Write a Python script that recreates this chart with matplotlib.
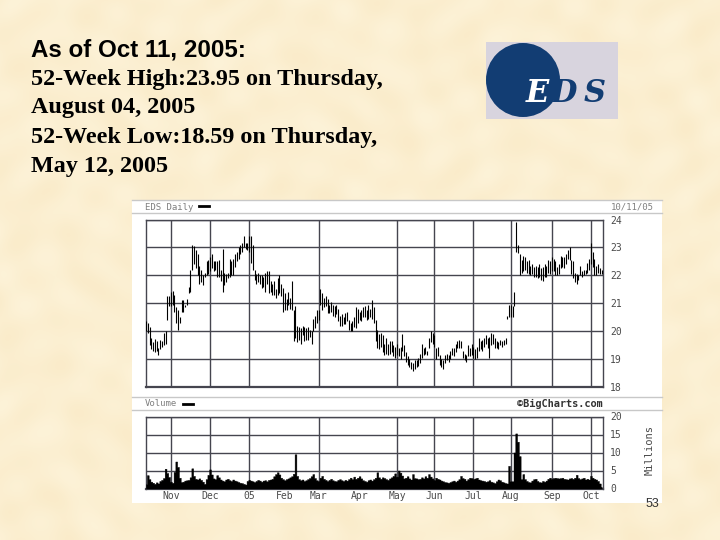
import numpy as np
import matplotlib
matplotlib.use("Agg")
import matplotlib.pyplot as plt
from matplotlib.patches import Rectangle, Circle

# daily highs and lows, Oct 11 2004 - Oct 11 2005
highs = [
    20.35, 20.30, 20.15, 19.75, 19.60, 19.72, 19.65, 19.40, 19.70, 19.65,
    19.95, 20.02, 21.25, 21.25, 21.40, 21.45, 21.30, 20.85, 20.76, 20.50,
    21.10, 21.10, 20.95, 21.15, 21.60, 22.20, 23.10, 23.05, 22.90, 22.75,
    22.35, 22.20, 22.00, 22.10, 22.50, 22.55, 22.65, 22.75, 22.50, 22.50,
    22.50, 22.55, 22.20, 22.95, 22.10, 22.05, 22.10, 22.60, 22.50, 22.60,
    22.75, 22.85, 23.00, 23.10, 23.15, 23.40, 23.15, 23.15, 23.40, 23.40,
    23.10, 22.20, 22.05, 22.10, 22.00, 22.00, 21.95, 22.10, 22.15, 22.15,
    21.80, 21.70, 21.80, 21.50, 21.90, 22.00, 21.70, 21.55, 21.35, 21.15,
    21.40, 21.20, 21.80, 20.75, 20.90, 20.20, 20.15, 20.10, 20.20, 20.15,
    20.10, 20.15, 20.05, 20.00, 20.45, 20.55, 20.75, 20.75, 21.50, 21.35,
    21.20, 21.25, 21.15, 20.95, 21.05, 20.95, 20.90, 20.95, 20.80, 20.55,
    20.60, 20.50, 20.65, 20.70, 20.40, 20.30, 20.35, 20.50, 20.85, 20.80,
    20.70, 20.75, 20.85, 20.90, 20.75, 20.95, 20.80, 21.10, 20.85, 20.40,
    20.05, 19.90, 19.95, 19.85, 19.55, 19.75, 19.55, 19.65, 19.65, 19.50,
    19.45, 19.55, 19.40, 19.45, 19.90, 19.50, 19.25, 19.10, 19.00, 18.90,
    18.85, 18.95, 18.95, 19.05, 19.20, 19.55, 19.40, 19.45, 19.30, 19.75,
    20.00, 19.95, 19.85, 19.40, 19.45, 19.15, 19.00, 18.95, 19.15, 19.20,
    19.15, 19.30, 19.40, 19.40, 19.55, 19.65, 19.70, 19.65, 19.30, 19.20,
    19.15, 19.50, 19.40, 19.55, 19.45, 19.35, 19.45, 19.75, 19.65, 19.70,
    19.75, 19.85, 19.75, 19.80, 19.95, 19.90, 19.75, 19.65, 19.60, 19.70,
    19.65, 19.70, 19.75, 20.55, 20.95, 20.95, 20.90, 21.40, 23.90, 23.10,
    22.75, 22.55, 22.70, 22.65, 22.50, 22.55, 22.35, 22.40, 22.30, 22.35,
    22.30, 22.40, 22.25, 22.30, 22.40, 22.35, 22.55, 22.50, 22.65, 22.60,
    22.50, 22.30, 22.40, 22.70, 22.65, 22.65, 22.75, 22.90, 23.00, 22.55,
    22.50, 22.10, 22.05, 22.00, 22.35, 22.15, 22.20, 22.20, 22.45, 22.60,
    23.15, 22.85, 22.60, 22.35, 22.40, 22.25, 22.20,
]
lows = [
    20.00, 19.95, 19.50, 19.35, 19.30, 19.25, 19.30, 19.15, 19.35, 19.45,
    19.50, 19.55, 20.40, 20.90, 20.90, 20.95, 20.70, 20.30, 20.05, 20.30,
    20.70, 20.70, 20.85, 20.95, 21.35, 21.40, 22.20, 22.40, 22.25, 22.00,
    21.70, 21.75, 21.65, 21.95, 22.00, 22.05, 22.15, 22.25, 22.15, 22.20,
    21.95, 21.95, 21.80, 21.40, 21.65, 21.75, 21.90, 21.95, 22.00, 22.00,
    22.30, 22.50, 22.60, 22.75, 22.85, 23.00, 22.95, 22.90, 22.85, 22.45,
    22.20, 21.85, 21.70, 21.75, 21.70, 21.55, 21.60, 21.40, 21.70, 21.35,
    21.40, 21.30, 21.30, 21.20, 21.30, 21.35, 21.25, 20.70, 20.75, 20.75,
    20.95, 20.80, 20.75, 19.65, 19.75, 19.60, 19.70, 19.55, 19.85, 19.65,
    19.70, 19.70, 19.80, 19.55, 20.00, 20.10, 20.30, 20.40, 20.95, 20.75,
    20.85, 20.90, 20.65, 20.65, 20.70, 20.55, 20.50, 20.60, 20.35, 20.20,
    20.20, 20.25, 20.25, 20.35, 20.05, 20.00, 20.00, 20.15, 20.10, 20.30,
    20.40, 20.35, 20.50, 20.50, 20.40, 20.45, 20.50, 20.45, 20.30, 19.65,
    19.40, 19.35, 19.45, 19.25, 19.15, 19.20, 19.15, 19.20, 19.25, 19.10,
    19.05, 19.15, 19.10, 19.00, 19.30, 19.10, 18.90, 18.80, 18.70, 18.65,
    18.59, 18.65, 18.70, 18.75, 18.85, 19.05, 19.15, 19.20, 19.15, 19.40,
    19.60, 19.55, 19.45, 19.00, 19.10, 18.80, 18.70, 18.65, 18.85, 18.95,
    18.90, 19.00, 19.15, 19.10, 19.25, 19.40, 19.40, 19.40, 19.05, 18.95,
    18.90, 19.10, 19.10, 19.15, 19.05, 19.00, 19.05, 19.30, 19.35, 19.30,
    19.45, 19.55, 19.40, 19.05, 19.50, 19.55, 19.40, 19.40, 19.35, 19.50,
    19.45, 19.50, 19.55, 20.45, 20.50, 20.50, 20.50, 20.90, 22.85, 22.80,
    22.00, 22.10, 22.15, 22.20, 22.10, 22.05, 22.00, 22.05, 21.95, 21.95,
    21.90, 21.95, 21.85, 21.80, 21.95, 21.95, 22.10, 22.05, 22.15, 22.15,
    22.00, 22.00, 22.05, 22.25, 22.30, 22.25, 22.40, 22.60, 22.55, 22.05,
    21.90, 21.75, 21.70, 21.85, 22.00, 21.95, 22.00, 22.05, 22.10, 22.20,
    22.40, 22.30, 22.00, 22.00, 22.10, 22.05, 22.05,
]
volumes = [
    1.2, 3.7, 2.6, 1.9, 1.6, 1.3, 1.7, 1.4, 2.1, 2.4,
    2.9, 5.5, 4.3, 3.2, 1.9, 1.6, 4.6, 7.5, 6.0, 3.0,
    1.8, 1.9, 2.2, 2.3, 2.4, 3.1, 5.6, 3.5, 2.7, 2.5,
    2.8, 2.4, 1.9, 1.3, 2.6, 3.8, 5.3, 3.9, 2.8, 2.6,
    3.7, 3.1, 2.5, 2.2, 2.0, 2.5, 2.7, 2.3, 2.1, 2.5,
    2.2, 2.0, 1.8, 1.6, 1.5, 1.3, 1.1, 2.1, 2.4, 2.2,
    2.0, 1.8, 2.1, 2.4, 2.2, 1.9, 2.2, 2.3, 2.0, 2.4,
    2.5, 2.7, 3.4, 4.0, 4.5, 3.9, 3.0, 2.6, 2.3, 2.6,
    2.8, 3.1, 3.4, 4.1, 9.5, 3.5, 2.6, 2.3, 2.5, 2.1,
    2.3, 2.6, 2.9, 3.4, 4.0, 2.9, 2.3, 2.1, 3.0, 3.5,
    2.7, 2.4, 2.1, 2.4, 2.7, 2.3, 2.1, 2.0, 2.4, 2.6,
    2.3, 2.1, 2.4, 2.2, 2.6, 3.0, 2.6, 3.3, 2.7, 3.0,
    3.4, 2.8, 2.3, 2.1, 1.9, 2.3, 2.5, 2.2, 2.6, 3.0,
    4.5, 3.1, 2.7, 3.1, 2.9, 2.6, 2.4, 2.8, 3.1, 3.5,
    4.2, 3.3, 5.0, 4.4, 3.6, 2.8, 3.0, 3.4, 2.8, 2.5,
    4.0, 2.9, 2.8, 2.6, 2.7, 3.1, 2.8, 3.4, 3.0, 4.0,
    3.3, 2.8, 2.4, 3.0, 2.7, 2.5, 2.2, 2.0, 1.8, 1.7,
    1.6, 1.8, 2.0, 2.2, 1.9, 2.2, 2.6, 3.5, 2.9, 2.7,
    2.2, 2.6, 3.0, 2.9, 2.7, 2.8, 3.0, 2.5, 2.3, 2.2,
    2.1, 1.9, 2.0, 2.3, 1.9, 1.7, 1.5, 2.0, 2.5, 2.3,
    1.9, 1.7, 1.5, 1.4, 6.3, 2.0, 2.0, 10.0, 15.3, 13.0,
    9.0, 2.6, 4.0, 2.6, 2.1, 1.8, 1.7, 2.2, 2.6, 2.7,
    2.1, 1.8, 1.7, 2.1, 1.9, 2.2, 2.7, 3.0, 2.7, 2.9,
    3.0, 2.9, 2.8, 2.9, 3.0, 2.7, 2.6, 2.5, 2.8, 2.9,
    2.7, 3.0, 3.8, 2.9, 2.6, 2.8, 3.0, 2.5, 2.7, 2.5,
    3.5, 3.0, 2.7, 2.5, 2.1, 1.4, 0.5,
]
month_days = [14, 36, 58, 78, 97, 120, 141, 162, 184, 205, 228, 250]
month_labels = ["Nov", "Dec", "05", "Feb", "Mar", "Apr", "May", "Jun", "Jul", "Aug", "Sep", "Oct"]
grid_days = [14, 36, 58, 97, 141, 162, 184, 205, 228, 250]
price_ticks = [18, 19, 20, 21, 22, 23, 24]
volume_ticks = [0, 5, 10, 15, 20]

BG = "#FBEFD0"
GRID = "#45454F"
LABEL = "#4A4A4A"
MONO = "DejaVu Sans Mono"
NAVY = "#123D73"

fig = plt.figure(figsize=(7.2, 5.4), dpi=100, facecolor=BG)

# slide background, pixel coordinates
bg = fig.add_axes([0, 0, 1, 1])
yy, xx = np.mgrid[0:540, 0:720]
mottle = (np.sin(xx / 9.0 + np.sin(yy / 31.0) * 3) + np.sin(yy / 7.0 + np.sin(xx / 37.0) * 3)
          + np.sin((xx - yy) / 23.0 + np.sin(xx / 11.0)))
bg.imshow(mottle, extent=(0, 720, 540, 0), aspect="auto", vmin=-3.5, vmax=3.5,
          cmap=matplotlib.colors.LinearSegmentedColormap.from_list("paper", ["#FAEBC9", "#FDF3D9"]))
bg.axis("off")

bg.text(31, 57, "As of Oct 11, 2005:", family="Liberation Sans", weight="bold", fontsize=17.4, color="black")
lines = ["52-Week High:23.95 on Thursday,", "August 04, 2005", "52-Week Low:18.59 on Thursday,", "May 12, 2005"]
for y, line in zip([85, 113, 143, 172], lines):
    bg.text(31, y, line, family="Liberation Serif", weight="bold", fontsize=17.35, color="black")

# logo
bg.add_patch(Rectangle((486, 42), 132, 77, color="#D8D4DE", lw=0))
bg.add_patch(Circle((523, 80), 37, color=NAVY, lw=0))
for x, letter, col in zip([526, 551, 584], "EDS", ["white", NAVY, NAVY]):
    bg.text(x, 102.5, letter, family="DejaVu Serif", weight="bold", style="italic", fontsize=22, color=col)

# white chart panel and its header bands
bg.add_patch(Rectangle((132, 200), 530, 303, color="white", lw=0))
for y in [200, 213, 397, 410]:
    bg.plot([132, 662], [y, y], color="#C8C8C8", lw=1)
bg.set_xlim(0, 720)
bg.set_ylim(540, 0)
bg.text(145, 207, "EDS Daily", family=MONO, fontsize=6.5, color="#808080", va="center")
bg.plot([199, 209], [206, 206], color="black", lw=2)
bg.text(611, 207, "10/11/05", family=MONO, fontsize=6.5, color="#808080", va="center")
bg.text(145, 404, "Volume", family=MONO, fontsize=6.5, color="#808080", va="center")
bg.plot([183, 193], [404, 404], color="black", lw=2)
bg.text(603, 404, "©BigCharts.com", family=MONO, weight="bold", fontsize=7.4, color="#333333", va="center", ha="right")
bg.text(650, 450, "Millions", family=MONO, fontsize=7.5, color=LABEL, rotation=90, va="center", ha="center")
bg.text(652, 504, "53", family="Liberation Sans", fontsize=9, color="#333333", ha="center", va="center")


def panel(left, top, right, bottom):
    return fig.add_axes([left / 720, 1 - bottom / 540, (right - left) / 720, (bottom - top) / 540])


days = np.arange(len(highs))

# price panel
ax = panel(146, 219.5, 602.5, 387)
ax.set_xlim(0, 256.5)
ax.set_ylim(18, 24)
ax.set_yticks(price_ticks)
ax.set_xticks([])
ax.grid(axis="y", color=GRID, lw=1)
for d in grid_days:
    ax.axvline(d, color=GRID, lw=1)
ax.vlines(days, lows, highs, color="black", lw=0.8, zorder=3)

# volume panel
vol = panel(146, 416.5, 602.5, 488.5)
vol.set_xlim(0, 256.5)
vol.set_ylim(0, 20)
vol.set_yticks(volume_ticks)
vol.set_xticks(month_days, month_labels)
vol.grid(axis="y", color=GRID, lw=1)
for d in grid_days:
    vol.axvline(d, color=GRID, lw=1)
vol.fill_between(days, 0, volumes, step="mid", color="black", lw=0.3, zorder=3)

for a in [ax, vol]:
    a.patch.set_alpha(0)
    a.yaxis.tick_right()
    a.tick_params(axis="y", length=0, labelsize=7, labelcolor=LABEL, pad=5.5)
    a.tick_params(axis="x", length=0, labelsize=7, labelcolor=LABEL, pad=1.5)
    for lab in a.get_xticklabels() + a.get_yticklabels():
        lab.set_family(MONO)
    for s in a.spines.values():
        s.set_color(GRID)
        s.set_linewidth(1)
    a.spines["bottom"].set_linewidth(1.6)

fig.savefig("out.png", dpi=100, facecolor=BG)
